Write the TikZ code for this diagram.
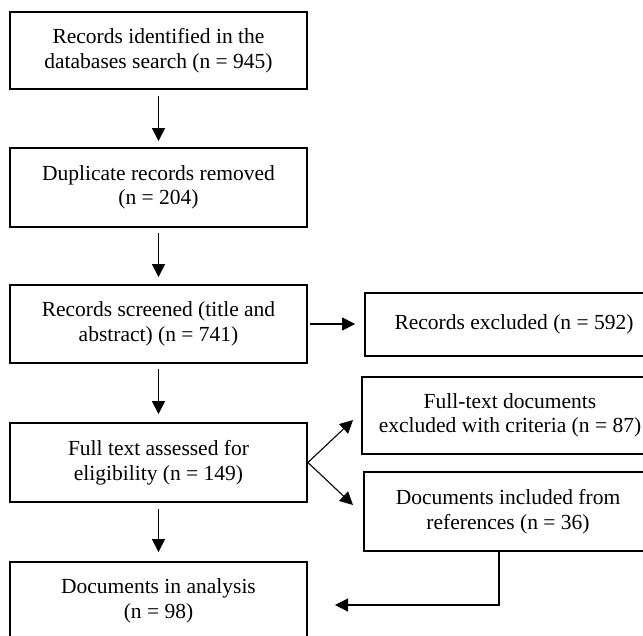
\documentclass[tikz,border=0pt]{standalone}
\usepackage{fontspec}
\setmainfont{Liberation Serif}
\usetikzlibrary{arrows.meta,calc}
\begin{document}
\begin{tikzpicture}[x=1pt,y=-1pt,
  box/.style={draw,line width=1.8pt,rectangle,align=center,inner sep=0pt,
    font=\fontsize{21.5}{24.5}\selectfont},
  conn/.style={line width=1.1pt,-{Triangle[width=13pt,length=13pt]}}]
\useasboundingbox (0,0) rectangle (643,635);
\node[box,minimum width=297pt,minimum height=77pt] (b1) at (158.5,50.5) {Records identified in the\\databases search (n = 945)};
\node[box,minimum width=297pt,minimum height=79pt] (b2) at (158.5,187.5) {Duplicate records removed\\(n = 204)};
\node[box,minimum width=297pt,minimum height=78pt] (b3) at (158.5,324) {Records screened (title and\\abstract) (n = 741)};
\node[box,minimum width=297pt,minimum height=79pt] (b4) at (158.5,462.5) {Full text assessed for\\eligibility (n = 149)};
\node[box,minimum width=297pt,minimum height=78pt] (b5) at (158.5,601) {Documents in analysis\\(n = 98)};
\node[box,minimum width=298pt,minimum height=63pt] (r1) at (514,324.5) {Records excluded (n = 592)};
\node[box,minimum width=296pt,minimum height=77pt] (r2) at (510,415.5) {Full-text documents\\excluded with criteria (n = 87)};
\node[box,minimum width=288pt,minimum height=79pt] (r3) at (508,511.5) {Documents included from\\references (n = 36)};
\coordinate (t1) at (353,420);
\coordinate (t2) at (353,505);
\coordinate (c1) at (499,605);
\coordinate (c2) at (335,605);
\draw[conn,shorten <=6pt,shorten >=6pt] (b1.south) -- (b2.north);
\draw[conn,shorten <=5pt,shorten >=7pt] (b2.south) -- (b3.north);
\draw[conn,shorten <=5pt,shorten >=8pt] (b3.south) -- (b4.north);
\draw[conn,shorten <=6pt,shorten >=9pt] (b4.south) -- (b5.north);
\draw[conn,shorten <=2pt,shorten >=9pt] (b3.east) -- (b3.east -| r1.west);
\draw[conn] (b4.east) -- (t1);
\draw[conn] (b4.east) -- (t2);
\draw[conn] (c1 |- r3.south) -- (c1) -- (c2);
\end{tikzpicture}
\end{document}
